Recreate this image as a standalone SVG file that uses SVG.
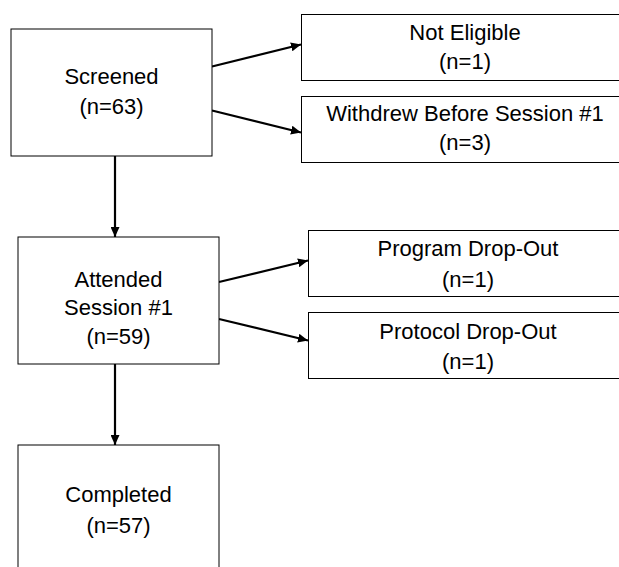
<svg xmlns="http://www.w3.org/2000/svg" width="619" height="567" viewBox="0 0 619 567">
  <style>
    .box { fill: #ffffff; stroke: #000000; stroke-width: 1; }
    .lbl { font-family: "Liberation Sans", Arial, sans-serif; font-size: 22px; fill: #000000; text-anchor: middle; }
    .edge { stroke: #000000; stroke-width: 2.2; fill: none; marker-end: url(#arrow); }
  </style>
  <defs>
    <marker id="arrow" markerUnits="userSpaceOnUse" viewBox="0 0 10 9" refX="10" refY="4.5" markerWidth="10" markerHeight="9" orient="auto">
      <path d="M0,0 L10,4.5 L0,9 Z" fill="#000000"/>
    </marker>
  </defs>
  <rect width="619" height="567" fill="#ffffff"/>

  <g id="connectors">
    <line class="edge" x1="212" y1="66.5" x2="301" y2="44.5"/>
    <line class="edge" x1="212" y1="110.5" x2="301" y2="132.5"/>
    <line class="edge" x1="115" y1="156" x2="115" y2="237"/>
    <line class="edge" x1="219" y1="282" x2="308" y2="260.5"/>
    <line class="edge" x1="219" y1="319" x2="308" y2="340.5"/>
    <line class="edge" x1="115" y1="364" x2="115" y2="445"/>
  </g>

  <g id="screened">
    <rect class="box" x="11" y="29" width="201" height="127"/>
    <text class="lbl" x="111.5" y="84">Screened</text>
    <text class="lbl" x="111.5" y="114">(n=63)</text>
  </g>

  <g id="not-eligible">
    <rect class="box" x="301.5" y="14.5" width="330" height="66"/>
    <text class="lbl" x="465" y="40">Not Eligible</text>
    <text class="lbl" x="465" y="68.5">(n=1)</text>
  </g>

  <g id="withdrew">
    <rect class="box" x="301.5" y="96.5" width="330" height="66"/>
    <text class="lbl" x="465" y="120.5">Withdrew Before Session #1</text>
    <text class="lbl" x="465" y="150">(n=3)</text>
  </g>

  <g id="attended">
    <rect class="box" x="18" y="237" width="201" height="127"/>
    <text class="lbl" x="118.5" y="286.5">Attended</text>
    <text class="lbl" x="118.5" y="315">Session #1</text>
    <text class="lbl" x="118.5" y="343.5">(n=59)</text>
  </g>

  <g id="program-dropout">
    <rect class="box" x="308.5" y="230.5" width="330" height="66"/>
    <text class="lbl" x="468" y="256">Program Drop-Out</text>
    <text class="lbl" x="468" y="286.5">(n=1)</text>
  </g>

  <g id="protocol-dropout">
    <rect class="box" x="308.5" y="312.5" width="330" height="66"/>
    <text class="lbl" x="468" y="338.5">Protocol Drop-Out</text>
    <text class="lbl" x="468" y="368.5">(n=1)</text>
  </g>

  <g id="completed">
    <rect class="box" x="18" y="445" width="201" height="160"/>
    <text class="lbl" x="118.5" y="501.5">Completed</text>
    <text class="lbl" x="118.5" y="532.5">(n=57)</text>
  </g>
</svg>
